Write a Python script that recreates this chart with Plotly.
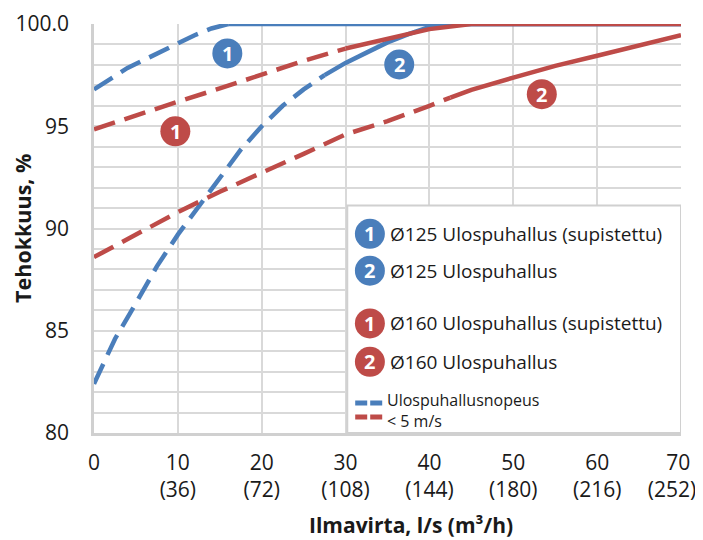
import plotly.graph_objs as go

# ilmavirta l/s ja vastaava m3/h
flow_ls = [0, 10, 20, 30, 40, 50, 60, 70]
flow_labels = ['0', '10', '20', '30', '40', '50', '60', '70\u00a0']
flow_m3h = ['', '(36)', '(72)', '(108)', '(144)', '(180)', '(216)', '(252)']
eff_ticks = [80, 85, 90, 95, 100]
eff_labels = ['80', '85', '90', '95', '100.0']

# Ø125 Ulospuhallus (supistettu)
b1_x = [0, 2, 4, 6, 8, 10, 12, 14, 16, 70]
b1_y = [96.8, 97.35, 97.85, 98.25, 98.65, 99.05, 99.45, 99.78, 100, 100]
b1_solid_from = 16

# Ø125 Ulospuhallus
b2_x = [0, 2.5, 5, 7.5, 10, 12.5, 15, 17.5, 20, 22.5, 25, 27.5, 30, 32.5, 35, 37.5, 40, 42.5, 70]
b2_y = [82.4, 84.6, 86.35, 88.15, 89.7, 91.1, 92.5, 93.85, 95.0, 96.0, 96.8, 97.5, 98.1, 98.6, 99.1, 99.5, 99.85, 100, 100]
b2_solid_from = 27.5

# Ø160 Ulospuhallus (supistettu)
r1_x = [0, 5, 10, 15, 20, 25, 30, 35, 40, 45, 70]
r1_y = [94.85, 95.55, 96.2, 96.85, 97.55, 98.2, 98.8, 99.3, 99.75, 100, 100]
r1_solid_from = 30

# Ø160 Ulospuhallus
r2_x = [0, 5, 10, 15, 20, 25, 30, 35, 40, 42.5, 45, 50, 55, 60, 65, 70]
r2_y = [88.6, 89.7, 90.8, 91.8, 92.7, 93.65, 94.6, 95.25, 96.0, 96.4, 96.78, 97.38, 97.95, 98.45, 98.95, 99.45]
r2_solid_from = 42.5

BLUE = '#4a7ebb'
RED = '#be4b48'
GRID = '#d9d9d9'
FONT = 'Open Sans'
TXT = '#1a1a1a'

series = [
    (b1_x, b1_y, b1_solid_from, BLUE, '1', 15.9, 98.56),
    (b2_x, b2_y, b2_solid_from, BLUE, '2', 36.4, 98.02),
    (r1_x, r1_y, r1_solid_from, RED, '1', 9.7, 94.75),
    (r2_x, r2_y, r2_solid_from, RED, '2', 53.4, 96.57),
]

fig = go.Figure()
shapes = []
annotations = []


def badge(x, y, num, color, xref='x', yref='y'):
    '''numeroitu ympyrä'''
    shapes.append(dict(type='circle', xref=xref, yref=yref, xsizemode='pixel', ysizemode='pixel',
                       xanchor=x, yanchor=y, x0=-15, x1=15, y0=-15, y1=15,
                       fillcolor=color, line=dict(width=0), layer='above'))
    annotations.append(dict(x=x, y=y, xref=xref, yref=yref, text='<b>%s</b>' % num, showarrow=False,
                            font=dict(family=FONT, size=20, color='white'),
                            xanchor='center', yanchor='middle'))


for xs, ys, split, color, num, bx, by in series:
    dx = [x for x in xs if x <= split]
    dy = ys[:len(dx)]
    sx = [x for x in xs if x >= split]
    sy = ys[len(xs) - len(sx):]
    fig.add_trace(go.Scatter(x=dx, y=dy, mode='lines', cliponaxis=False, showlegend=False,
                             line=dict(color=color, width=4.5, dash='22px,10px')))
    fig.add_trace(go.Scatter(x=sx, y=sy, mode='lines', cliponaxis=False, showlegend=False,
                             line=dict(color=color, width=4.5)))
    badge(bx, by, num, color)

# tyhjät jäljet, jotta m3/h-akselit piirtyvät
fig.add_trace(go.Scatter(x=[None], y=[None], xaxis='x2', showlegend=False, hoverinfo='skip'))
fig.add_trace(go.Scatter(x=[None], y=[None], xaxis='x3', showlegend=False, hoverinfo='skip'))

# selitelaatikko
shapes.append(dict(type='rect', xref='x', yref='y', x0=30.2, x1=70, y0=80, y1=91.13,
                   fillcolor='white', line=dict(color='#d0d0d0', width=2), layer='above'))

legend_items = [
    (BLUE, '1', 89.74, 'Ø125 Ulospuhallus (supistettu)'),
    (BLUE, '2', 87.94, 'Ø125 Ulospuhallus'),
    (RED, '1', 85.36, 'Ø160 Ulospuhallus (supistettu)'),
    (RED, '2', 83.48, 'Ø160 Ulospuhallus'),
]
for color, num, y, label in legend_items:
    badge(32.9, y, num, color)
    annotations.append(dict(x=35.1, y=y, xref='x', yref='y', text=label, showarrow=False,
                            xanchor='left', yanchor='middle',
                            font=dict(family=FONT, size=19, color=TXT)))

for color, y in [(BLUE, 81.47), (RED, 80.78)]:
    shapes.append(dict(type='line', xref='x', yref='y', x0=31.15, x1=34.4, y0=y, y1=y,
                       line=dict(color=color, width=5, dash='12px,3px'), layer='above'))
annotations.append(dict(x=34.75, y=81.08, xref='x', yref='y', text='Ulospuhallusnopeus<br>< 5 m/s',
                        showarrow=False, xanchor='left', yanchor='middle', align='left',
                        font=dict(family=FONT, size=16, color=TXT)))

# akselien otsikot
annotations.append(dict(x=0.54, y=-0.225, xref='paper', yref='paper', text='<b>Ilmavirta, l/s (m³/h)</b>',
                        showarrow=False, xanchor='center', yanchor='middle',
                        font=dict(family=FONT, size=21, color=TXT)))
annotations.append(dict(x=-0.122, y=0.5, xref='paper', yref='paper', text='<b>Tehokkuus, %</b>',
                        textangle=-90, showarrow=False, xanchor='center', yanchor='middle',
                        font=dict(family=FONT, size=21.5, color=TXT)))

# sivun oletusreunus (8 px) huomioitu: kuvaaja-alue 94..681 x 24..433
fig.update_layout(
    width=695, height=532,
    margin=dict(l=86, r=22, t=16, b=107),
    plot_bgcolor='white', paper_bgcolor='white',
    font=dict(family=FONT, size=21, color=TXT),
    shapes=shapes, annotations=annotations,
    xaxis=dict(range=[0, 70], tickvals=flow_ls, ticktext=flow_labels,
               showgrid=True, gridcolor=GRID, gridwidth=1.5, zeroline=False,
               showline=True, linecolor='#d0d0d0', linewidth=2.5, mirror=False,
               ticks='', ticklabelstandoff=9, automargin=False, ticklabeloverflow='allow'),
    # m3/h-rivi (paitsi viimeinen)
    xaxis2=dict(range=[0, 70], overlaying='x', anchor='y', side='bottom',
                tickvals=flow_ls[:-1], ticktext=flow_m3h[:-1], showgrid=False, zeroline=False,
                showline=False, ticks='', ticklabelstandoff=42, automargin=False,
                ticklabeloverflow='allow'),
    # viimeinen m3/h-arvo siirrettynä vasemmalle, kuten alkuperäisessä
    xaxis3=dict(range=[0, 70], overlaying='x', anchor='y', side='bottom',
                tickvals=flow_ls[-1:], ticktext=flow_m3h[-1:], showgrid=False, zeroline=False,
                showline=False, ticks='', ticklabelstandoff=42, ticklabelshift=-9,
                automargin=False, ticklabeloverflow='allow'),
    yaxis=dict(range=[80, 100], tickvals=eff_ticks, ticktext=eff_labels,
               showgrid=True, gridcolor=GRID, gridwidth=1.5, zeroline=False,
               minor=dict(dtick=1, showgrid=True, gridcolor=GRID, gridwidth=1.5),
               showline=True, linecolor='#d0d0d0', linewidth=2.5,
               ticks='', ticklabelstandoff=18, automargin=False),
)

fig.write_html("out.html")
